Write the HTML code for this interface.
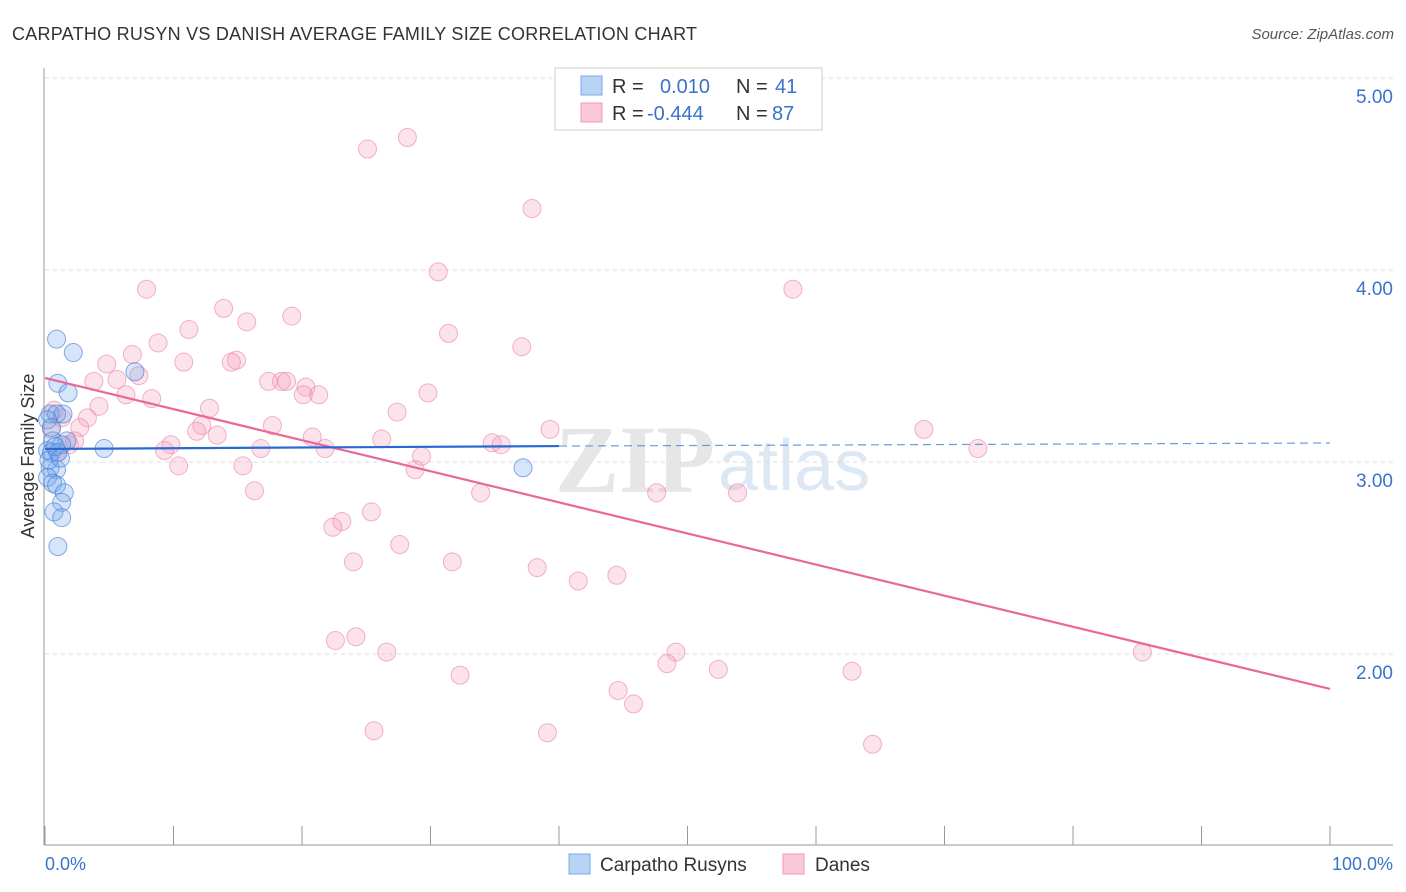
<!DOCTYPE html>
<html><head><meta charset="utf-8"><style>
body{margin:0;background:#fff;font-family:"Liberation Sans",sans-serif;}
svg{display:block}
</style></head><body>
<svg id="c" width="1406" height="892" xmlns="http://www.w3.org/2000/svg">
<text x="12" y="40" font-size="18" letter-spacing="0.25" fill="#333">CARPATHO RUSYN VS DANISH AVERAGE FAMILY SIZE CORRELATION CHART</text>
<text x="1394" y="39" font-size="15" fill="#555" font-style="italic" text-anchor="end">Source: ZipAtlas.com</text>
<text x="555" y="492" font-size="96" font-weight="bold" fill="#e6e6e6" font-family="Liberation Serif,serif">ZIP</text>
<text x="718" y="490" font-size="72" fill="#dde8f5">atlas</text>
<g id="grid"></g>
<g id="marks"></g>
<text transform="translate(34,456) rotate(-90)" font-size="18" fill="#333" text-anchor="middle">Average Family Size</text>
<g>
<rect x="555" y="68" width="267" height="62" fill="#fff" stroke="#ccc"/>
<rect x="581" y="76" width="21" height="19" fill="#b9d3f5" stroke="#7aa8e8"/>
<rect x="581" y="103" width="21" height="19" fill="#fbc8d8" stroke="#f09ab6"/>
<text x="612" y="93" font-size="20" fill="#333">R =</text>
<text x="660" y="93" font-size="20" fill="#3a72cc">0.010</text>
<text x="736" y="93" font-size="20" fill="#333">N =</text>
<text x="775" y="93" font-size="20" fill="#3a72cc">41</text>
<text x="612" y="120" font-size="20" fill="#333">R =</text>
<text x="647" y="120" font-size="20" fill="#3a72cc">-0.444</text>
<text x="736" y="120" font-size="20" fill="#333">N =</text>
<text x="772" y="120" font-size="20" fill="#3a72cc">87</text>
</g>
<g>
<rect x="569" y="854" width="21" height="20" fill="#b9d3f5" stroke="#7aa8e8"/>
<text x="600" y="871" font-size="19" fill="#333">Carpatho Rusyns</text>
<rect x="783" y="854" width="21" height="20" fill="#fbc8d8" stroke="#f09ab6"/>
<text x="815" y="871" font-size="19" fill="#333">Danes</text>
</g>
<text x="45" y="870" font-size="18" fill="#3a72cc">0.0%</text>
<text x="1393" y="870" font-size="18" fill="#3a72cc" text-anchor="end">100.0%</text>
</svg>
<script>
const yTicks=[5,4,3,2];
const yTickLabels=["5.00","4.00","3.00","2.00"];
const xTicks=[0,10,20,30,40,50,60,70,80,90,100];
const blueX=[0.9,2.2,1.0,1.8,0.4,1.4,0.9,0.6,1.7,1.3,0.2,0.5,1.0,4.6,0.4,0.9,0.2,0.6,0.9,1.5,1.3,0.7,1.3,1.0,7.0,37.2,0.2,0.3,0.8,0.5,1.2];
const blueY=[3.64,3.57,3.41,3.36,3.25,3.25,3.25,3.11,3.11,3.09,3.06,3.05,3.05,3.07,2.97,2.96,2.92,2.89,2.88,2.84,2.79,2.74,2.71,2.56,3.47,2.97,3.22,3.01,3.08,3.18,3.02];
const pinkX=[25.1,28.2,37.9,30.6,7.9,58.2,13.9,15.7,19.2,11.2,31.4,8.8,37.1,6.8,10.8,4.8,14.9,14.5,7.3,3.8,5.6,18.4,17.4,18.8,20.3,6.3,8.3,20.1,21.3,29.8,4.2,12.8,27.4,3.3,0.7,2.7,12.2,17.7,11.8,13.4,20.8,26.2,34.8,35.5,39.3,68.4,72.6,9.8,9.3,16.8,21.8,1.9,1.0,29.3,10.4,15.4,28.8,16.3,33.9,47.6,53.9,25.4,23.1,22.4,24.0,27.6,31.7,38.3,41.5,44.5,22.6,24.2,26.6,49.1,48.4,52.4,62.8,32.3,44.6,45.8,25.6,39.1,64.4,85.4,0.5,2.3,1.3];
const pinkY=[4.63,4.69,4.32,3.99,3.90,3.90,3.80,3.73,3.76,3.69,3.67,3.62,3.60,3.56,3.52,3.51,3.53,3.52,3.45,3.42,3.43,3.42,3.42,3.42,3.39,3.35,3.33,3.35,3.35,3.36,3.29,3.28,3.26,3.23,3.27,3.18,3.19,3.19,3.16,3.14,3.13,3.12,3.10,3.09,3.17,3.17,3.07,3.09,3.06,3.07,3.07,3.09,3.05,3.03,2.98,2.98,2.96,2.85,2.84,2.84,2.84,2.74,2.69,2.66,2.48,2.57,2.48,2.45,2.38,2.41,2.07,2.09,2.01,2.01,1.95,1.92,1.91,1.89,1.81,1.74,1.60,1.59,1.53,2.01,3.17,3.11,3.23];
const blueTrend=[3.068,3.083,3.099];
const pinkTrend=[3.4375,1.818];
const NS="http://www.w3.org/2000/svg";
const xs=v=>45+v*12.85, ys=v=>78+(5-v)*192;
function mk(t,a,p){const e=document.createElementNS(NS,t);for(const k in a)e.setAttribute(k,a[k]);p.appendChild(e);return e;}
const g=document.getElementById('grid'), m=document.getElementById('marks');
yTicks.forEach((v,i)=>{
  const l=mk('line',{x1:45,x2:1393,y1:ys(v),y2:ys(v),stroke:'#ddd','stroke-dasharray':'4,4'},g);
  
  
  const t=mk('text',{x:1393,y:ys(v)+25,'font-size':19,fill:'#3a72cc','text-anchor':'end'},g);
  t.textContent=yTickLabels[i];
  
  
});
const ya=mk('line',{x1:44,x2:44,y1:68,y2:845,stroke:'#999'},g);


const xa=mk('line',{x1:44,x2:1393,y1:845,y2:845,stroke:'#999'},g);


xTicks.forEach(v=>{
  const t=mk('line',{x1:xs(v),x2:xs(v),y1:826,y2:845,stroke:'#999'},g);
  
  
});
pinkX.forEach((x,i)=>{
  const c=mk('circle',{cx:xs(x),cy:ys(pinkY[i]),r:9,fill:'rgba(244,160,190,0.3)',stroke:'rgba(232,120,160,0.55)','stroke-width':1},m);
  
  
});
blueX.forEach((x,i)=>{
  const c=mk('circle',{cx:xs(x),cy:ys(blueY[i]),r:9,fill:'rgba(120,170,235,0.3)',stroke:'rgba(60,120,210,0.6)','stroke-width':1},m);
  
  
});
const pt=mk('line',{x1:xs(0),y1:ys(pinkTrend[0]),x2:xs(100),y2:ys(pinkTrend[1]),stroke:'#e8689a','stroke-width':2.2},m);


const bt=mk('line',{x1:xs(0),y1:ys(blueTrend[0]),x2:xs(40),y2:ys(blueTrend[1]),stroke:'#2a6ad0','stroke-width':2.2},m);


const bd=mk('line',{x1:xs(40),y1:ys(blueTrend[1]),x2:xs(100),y2:ys(blueTrend[2]),stroke:'#6a9ae0','stroke-width':1.2,'stroke-dasharray':'8,5'},m);


</script>
</body></html>
